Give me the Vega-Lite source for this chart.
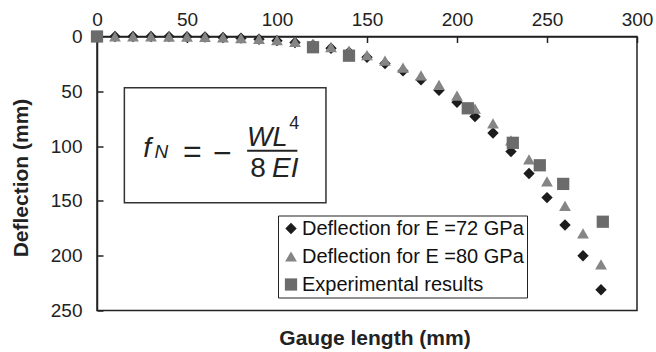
{
  "$schema": "https://vega.github.io/schema/vega-lite/v6.json",
  "width": 540,
  "height": 274,
  "autosize": {"type": "none"},
  "padding": {"left": 97, "top": 36.5, "right": 19, "bottom": 41.5},
  "background": "white",
  "config": {
    "font": "Liberation Sans",
    "view": {"stroke": "#222", "strokeWidth": 1.5},
    "axis": {"domainColor": "#222", "domainWidth": 1.5, "tickColor": "#222", "tickWidth": 1.5, "labelColor": "#222", "labelFont": "Liberation Sans", "labelFontSize": 19, "grid": false, "titleFont": "Liberation Sans", "titleFontSize": 21, "titleFontWeight": "bold", "titleColor": "#222", "labelFlush": false, "labelOverlap": false},
    "legend": {"orient": "none", "legendX": 181, "legendY": 179, "strokeColor": "#222", "fillColor": "white", "padding": 3, "labelFontSize": 20, "labelFont": "Liberation Sans", "labelColor": "#111", "symbolSize": 90, "rowPadding": 8, "labelOffset": 1, "symbolStrokeWidth": 0, "labelLimit": 400}
  },
  "title": {"text": "Gauge length (mm)", "orient": "bottom", "fontSize": 21, "fontWeight": "bold", "font": "Liberation Sans", "color": "#222", "offset": 7, "dx": 8},
  "resolve": {"axis": {"x": "independent", "y": "independent"}},
  "datasets": {
    "points": [
      {"series": "Deflection for E =72 GPa", "x": 0, "y": 0},
      {"series": "Deflection for E =72 GPa", "x": 10, "y": 0},
      {"series": "Deflection for E =72 GPa", "x": 20, "y": 0},
      {"series": "Deflection for E =72 GPa", "x": 30, "y": 0},
      {"series": "Deflection for E =72 GPa", "x": 40, "y": 0.1},
      {"series": "Deflection for E =72 GPa", "x": 50, "y": 0.2},
      {"series": "Deflection for E =72 GPa", "x": 60, "y": 0.5},
      {"series": "Deflection for E =72 GPa", "x": 70, "y": 0.9},
      {"series": "Deflection for E =72 GPa", "x": 80, "y": 1.5},
      {"series": "Deflection for E =72 GPa", "x": 90, "y": 2.5},
      {"series": "Deflection for E =72 GPa", "x": 100, "y": 3.8},
      {"series": "Deflection for E =72 GPa", "x": 110, "y": 5.5},
      {"series": "Deflection for E =72 GPa", "x": 120, "y": 7.8},
      {"series": "Deflection for E =72 GPa", "x": 130, "y": 10.7},
      {"series": "Deflection for E =72 GPa", "x": 140, "y": 14.4},
      {"series": "Deflection for E =72 GPa", "x": 150, "y": 19},
      {"series": "Deflection for E =72 GPa", "x": 160, "y": 24.6},
      {"series": "Deflection for E =72 GPa", "x": 170, "y": 31.4},
      {"series": "Deflection for E =72 GPa", "x": 180, "y": 39.5},
      {"series": "Deflection for E =72 GPa", "x": 190, "y": 49},
      {"series": "Deflection for E =72 GPa", "x": 200, "y": 60},
      {"series": "Deflection for E =72 GPa", "x": 210, "y": 73},
      {"series": "Deflection for E =72 GPa", "x": 220, "y": 88},
      {"series": "Deflection for E =72 GPa", "x": 230, "y": 105},
      {"series": "Deflection for E =72 GPa", "x": 240, "y": 125},
      {"series": "Deflection for E =72 GPa", "x": 250, "y": 147},
      {"series": "Deflection for E =72 GPa", "x": 260, "y": 172},
      {"series": "Deflection for E =72 GPa", "x": 270, "y": 200},
      {"series": "Deflection for E =72 GPa", "x": 280, "y": 231},
      {"series": "Deflection for E =80 GPa", "x": 0, "y": 0},
      {"series": "Deflection for E =80 GPa", "x": 10, "y": 0},
      {"series": "Deflection for E =80 GPa", "x": 20, "y": 0},
      {"series": "Deflection for E =80 GPa", "x": 30, "y": 0},
      {"series": "Deflection for E =80 GPa", "x": 40, "y": 0.1},
      {"series": "Deflection for E =80 GPa", "x": 50, "y": 0.2},
      {"series": "Deflection for E =80 GPa", "x": 60, "y": 0.4},
      {"series": "Deflection for E =80 GPa", "x": 70, "y": 0.8},
      {"series": "Deflection for E =80 GPa", "x": 80, "y": 1.4},
      {"series": "Deflection for E =80 GPa", "x": 90, "y": 2.2},
      {"series": "Deflection for E =80 GPa", "x": 100, "y": 3.4},
      {"series": "Deflection for E =80 GPa", "x": 110, "y": 5},
      {"series": "Deflection for E =80 GPa", "x": 120, "y": 7},
      {"series": "Deflection for E =80 GPa", "x": 130, "y": 9.6},
      {"series": "Deflection for E =80 GPa", "x": 140, "y": 13},
      {"series": "Deflection for E =80 GPa", "x": 150, "y": 17.1},
      {"series": "Deflection for E =80 GPa", "x": 160, "y": 22.1},
      {"series": "Deflection for E =80 GPa", "x": 170, "y": 28.3},
      {"series": "Deflection for E =80 GPa", "x": 180, "y": 35.5},
      {"series": "Deflection for E =80 GPa", "x": 190, "y": 44.1},
      {"series": "Deflection for E =80 GPa", "x": 200, "y": 54},
      {"series": "Deflection for E =80 GPa", "x": 210, "y": 65.8},
      {"series": "Deflection for E =80 GPa", "x": 220, "y": 79.2},
      {"series": "Deflection for E =80 GPa", "x": 230, "y": 94.7},
      {"series": "Deflection for E =80 GPa", "x": 240, "y": 112.2},
      {"series": "Deflection for E =80 GPa", "x": 250, "y": 132.1},
      {"series": "Deflection for E =80 GPa", "x": 260, "y": 154.5},
      {"series": "Deflection for E =80 GPa", "x": 270, "y": 179.7},
      {"series": "Deflection for E =80 GPa", "x": 280, "y": 208},
      {"series": "Experimental results", "x": 0, "y": 0},
      {"series": "Experimental results", "x": 120, "y": 9.8},
      {"series": "Experimental results", "x": 140, "y": 17.5},
      {"series": "Experimental results", "x": 206, "y": 65.5},
      {"series": "Experimental results", "x": 231, "y": 97},
      {"series": "Experimental results", "x": 246, "y": 117.5},
      {"series": "Experimental results", "x": 259, "y": 134.5},
      {"series": "Experimental results", "x": 281, "y": 169}
    ]
  },
  "layer": [
    {
      "data": {"values": [{}]},
      "mark": {"type": "rect", "fill": "white", "stroke": "#333", "strokeWidth": 1.5},
      "encoding": {
        "x": {"datum": 15.2, "type": "quantitative",
              "axis": {"orient": "top", "offset": -6, "tickSize": 6, "labels": false, "domain": false, "title": null, "values": [0, 50, 100, 150, 200, 250, 300]}},
        "x2": {"datum": 127.2},
        "y": {"datum": 46.7, "type": "quantitative",
              "axis": {"orient": "left", "offset": -6, "tickSize": 6, "labels": false, "domain": false, "title": null, "values": [0, 50, 100, 150, 200, 250]}},
        "y2": {"datum": 151.6}
      }
    },
    {
      "data": {"values": [{}]},
      "mark": {"type": "text", "text": "f", "fontSize": 28, "fontStyle": "italic", "align": "left", "baseline": "alphabetic", "color": "#222"},
      "encoding": {"x": {"datum": 25.7, "type": "quantitative", "axis": null}, "y": {"datum": 110, "type": "quantitative", "axis": null}}
    },
    {
      "data": {"values": [{}]},
      "mark": {"type": "text", "text": "N", "fontSize": 19, "fontStyle": "italic", "align": "left", "baseline": "alphabetic", "color": "#222"},
      "encoding": {"x": {"datum": 32, "type": "quantitative", "axis": null}, "y": {"datum": 111, "type": "quantitative", "axis": null}}
    },
    {
      "data": {"values": [{}]},
      "mark": {"type": "text", "text": "=", "fontSize": 32, "align": "center", "baseline": "alphabetic", "color": "#222"},
      "encoding": {"x": {"datum": 53, "type": "quantitative", "axis": null}, "y": {"datum": 114.5, "type": "quantitative", "axis": null}}
    },
    {
      "data": {"values": [{}]},
      "mark": {"type": "text", "text": "−", "fontSize": 32, "align": "center", "baseline": "alphabetic", "color": "#222"},
      "encoding": {"x": {"datum": 69.6, "type": "quantitative", "axis": null}, "y": {"datum": 116.3, "type": "quantitative", "axis": null}}
    },
    {
      "data": {"values": [{}]},
      "mark": {"type": "rule", "stroke": "#222", "strokeWidth": 2},
      "encoding": {
        "x": {"datum": 83.4, "type": "quantitative", "axis": null},
        "x2": {"datum": 111.3},
        "y": {"datum": 104.2, "type": "quantitative", "axis": null}
      }
    },
    {
      "data": {"values": [{}]},
      "mark": {"type": "text", "text": "WL", "fontSize": 27, "fontStyle": "italic", "align": "left", "baseline": "alphabetic", "color": "#222"},
      "encoding": {"x": {"datum": 83.3, "type": "quantitative", "axis": null}, "y": {"datum": 99.6, "type": "quantitative", "axis": null}}
    },
    {
      "data": {"values": [{}]},
      "mark": {"type": "text", "text": "4", "fontSize": 18, "align": "left", "baseline": "alphabetic", "color": "#222"},
      "encoding": {"x": {"datum": 106.8, "type": "quantitative", "axis": null}, "y": {"datum": 84.4, "type": "quantitative", "axis": null}}
    },
    {
      "data": {"values": [{}]},
      "mark": {"type": "text", "text": "8", "fontSize": 28, "align": "left", "baseline": "alphabetic", "color": "#222"},
      "encoding": {"x": {"datum": 85.2, "type": "quantitative", "axis": null}, "y": {"datum": 127.9, "type": "quantitative", "axis": null}}
    },
    {
      "data": {"values": [{}]},
      "mark": {"type": "text", "text": "EI", "fontSize": 28, "fontStyle": "italic", "align": "left", "baseline": "alphabetic", "color": "#222"},
      "encoding": {"x": {"datum": 97.2, "type": "quantitative", "axis": null}, "y": {"datum": 127.9, "type": "quantitative", "axis": null}}
    },
    {
      "data": {"name": "points"},
      "mark": {"type": "point", "filled": true, "opacity": 1, "strokeWidth": 0},
      "encoding": {
        "x": {"field": "x", "type": "quantitative", "scale": {"domain": [0, 300], "nice": false, "zero": false},
              "axis": {"orient": "top", "values": [0, 50, 100, 150, 200, 250, 300], "ticks": false, "labelPadding": 7, "title": null, "labelAngle": 0}},
        "y": {"field": "y", "type": "quantitative", "scale": {"domain": [0, 250], "reverse": true, "nice": false, "zero": false},
              "axis": {"orient": "left", "values": [0, 50, 100, 150, 200, 250], "ticks": false, "labelPadding": 15, "title": "Deflection (mm)", "titleX": -76, "titleY": 141, "titleAngle": -90, "titleAlign": "center", "titleBaseline": "middle"}},
        "shape": {"field": "series", "type": "nominal",
                  "scale": {"domain": ["Deflection for E =72 GPa", "Deflection for E =80 GPa", "Experimental results"], "range": ["diamond", "triangle-up", "square"]},
                  "legend": {"title": null}},
        "color": {"field": "series", "type": "nominal",
                  "scale": {"domain": ["Deflection for E =72 GPa", "Deflection for E =80 GPa", "Experimental results"], "range": ["#1c1c1c", "#858585", "#6b6b6b"]},
                  "legend": {"title": null}},
        "size": {"field": "series", "type": "nominal",
                 "scale": {"domain": ["Deflection for E =72 GPa", "Deflection for E =80 GPa", "Experimental results"], "range": [130, 150, 115]},
                 "legend": null}
      }
    }
  ]
}
